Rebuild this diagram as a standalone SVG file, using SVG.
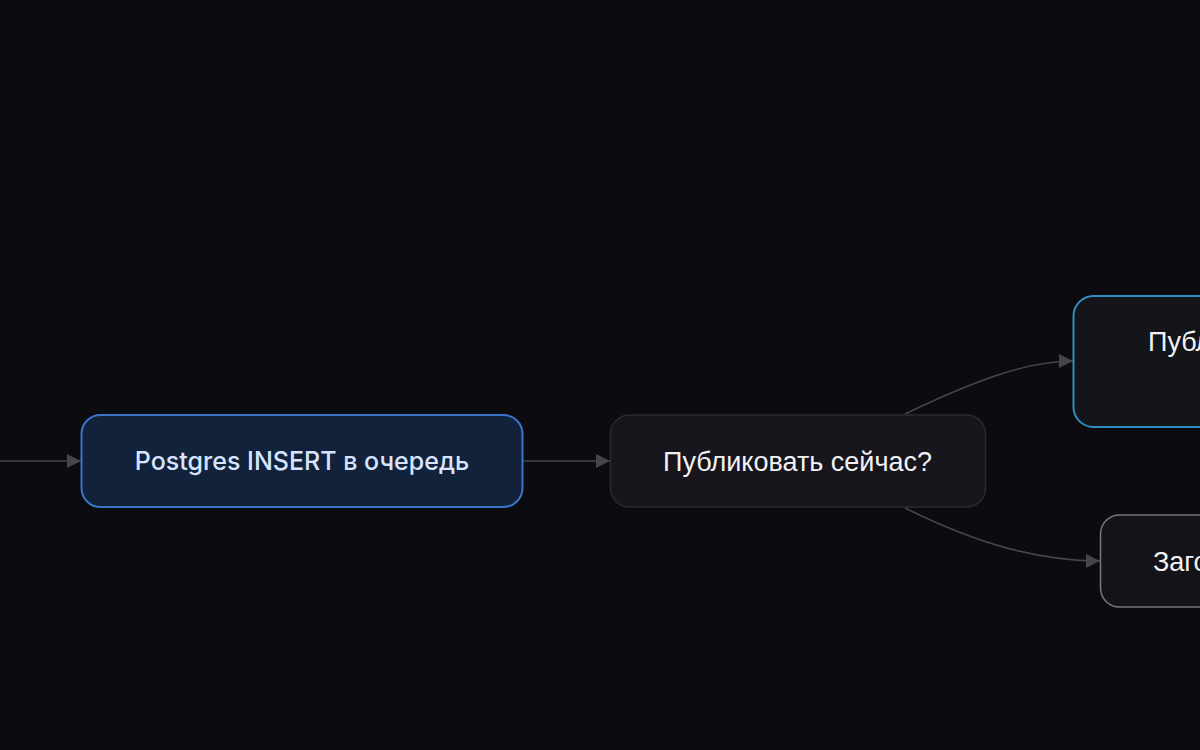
<svg xmlns="http://www.w3.org/2000/svg" width="1200" height="750" viewBox="0 0 1200 750">
<defs>
<style>
.edge{fill:none;stroke:#45454c;stroke-width:1.6}
.lbl{font-family:"Liberation Sans",Arial,sans-serif;font-size:27px;fill:#f2f2f5}
.lblb{font-family:Inter,"Liberation Sans",sans-serif;font-size:25px;font-weight:500;fill:#d6e4ff}
</style>
<marker id="arr" viewBox="0 0 10 10" refX="10" refY="5" markerWidth="14" markerHeight="14" markerUnits="userSpaceOnUse" orient="auto">
<path d="M0,0 L10,5 L0,10 z" fill="#45454c"/>
</marker>
</defs>
<rect width="1200" height="750" fill="#0b0b10"/>
<g id="connectors">
<path class="edge" d="M0,461 L81,461" marker-end="url(#arr)"/>
<path class="edge" d="M522,461 L610,461" marker-end="url(#arr)"/>
<path class="edge" d="M905,414 C980,378 1030,361 1073,361" marker-end="url(#arr)"/>
<path class="edge" d="M905,508 C980,545 1040,561 1100,561" marker-end="url(#arr)"/>
</g>
<g id="node-insert">
<rect x="81.5" y="415" width="441" height="92" rx="19" fill="#13223b" stroke="#3b74c9" stroke-width="2"/>
<text class="lblb" x="302" y="470" text-anchor="middle">Postgres INSERT в очередь</text>
</g>
<g id="node-decision">
<rect x="610.5" y="415" width="375" height="92" rx="19" fill="#16161c" stroke="#2a2a31" stroke-width="1.5"/>
<text class="lbl" x="797.5" y="471" text-anchor="middle">Публиковать сейчас?</text>
</g>
<g id="node-publish">
<rect x="1073.5" y="296" width="200" height="131" rx="20" fill="#14151b" stroke="#2f8ec0" stroke-width="2"/>
<text class="lbl" x="1148" y="351">Публ</text>
</g>
<g id="node-draft">
<rect x="1100.5" y="515" width="200" height="92" rx="19" fill="#131318" stroke="#77777d" stroke-width="1.5"/>
<text class="lbl" x="1153" y="571">Заго</text>
</g>
</svg>
